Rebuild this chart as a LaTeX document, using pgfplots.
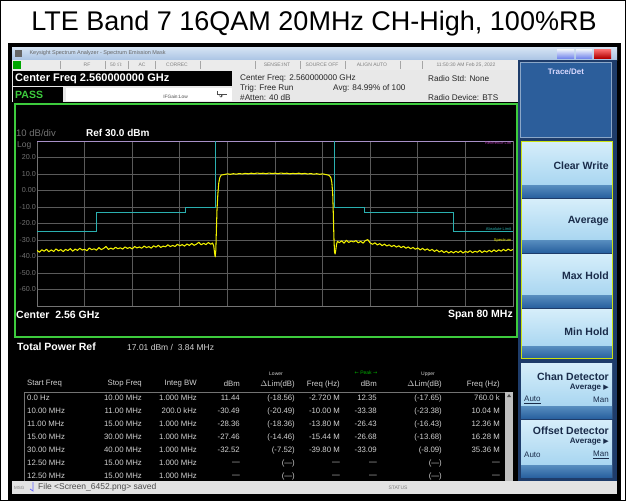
\documentclass[border=0pt]{standalone}
\usepackage{pgfplots}
\pgfplotsset{compat=1.18}
\usepackage{fontspec}
\setmainfont{Liberation Sans}
\newfontfamily\dejavu{DejaVu Sans}
\newcommand\fs[1]{\fontsize{#1}{#1}\selectfont}
\definecolor{tb1}{HTML}{D6E4F4}
\definecolor{tb2}{HTML}{AAC4E4}
\definecolor{grn}{HTML}{3DCB3D}
\definecolor{gridc}{HTML}{5A5A5A}
\definecolor{ylw}{HTML}{F2F200}
\definecolor{mask}{HTML}{2AB0B0}
\definecolor{mag}{HTML}{B03CB0}
\definecolor{lav}{HTML}{A890C8}
\definecolor{navy}{HTML}{1E3C6A}
\definecolor{hdr}{HTML}{2C5E9B}
\definecolor{btop}{HTML}{D6EEFA}
\definecolor{bmid}{HTML}{9CCFEE}
\definecolor{bbot}{HTML}{2A62A0}
\definecolor{btxt}{HTML}{1A2C4A}
\definecolor{tgray}{HTML}{D2D2D2}
\newcommand\btn[2]{%
  \shade[top color=btop,bottom color=bmid] (521,#1) rectangle (612,#2);
  \shade[top color=bmid!40!bbot,bottom color=bbot] (521,{#2-12}) rectangle (612,#2);}
\newcommand\trow[9]{%
  \node[anchor=west] at (27,\ry) {#1};
  \node[anchor=east] at (142,\ry) {#2};
  \node[anchor=east] at (197,\ry) {#3};
  \node[anchor=east] at (240,\ry) {#4};
  \node[anchor=east] at (295,\ry) {#5};
  \node[anchor=east] at (340,\ry) {#6};
  \node[anchor=east] at (377,\ry) {#7};
  \node[anchor=east] at (442,\ry) {#8};
  \node[anchor=east] at (500,\ry) {#9};}
\begin{document}
\begin{tikzpicture}
\begin{scope}[x=1pt,y=-1pt]
\fill[white] (0,0) rectangle (637,501);
\draw[line width=1.2pt] (0.6,0.6) rectangle (625.4,500.4);
\node[anchor=base,font=\fs{27},inner sep=0pt] at (314,30) {LTE Band 7 16QAM 20MHz CH-High, 100\%RB};
\fill[black] (8,43) rectangle (621,500);
% title bar
\shade[top color=tb1,bottom color=tb2] (12,47) rectangle (617,60);
\fill[black!60] (15,50) rectangle (22,57);
\node[anchor=west,font=\fs{5.5},text=black!60] at (26,53.5) {Keysight Spectrum Analyzer - Spectrum Emission Mask};
\shade[top color=white!70!tb1,bottom color=tb2!70!blue] (557,49) rectangle (574,58);
\shade[top color=white!70!tb1,bottom color=tb2!70!blue] (576,49) rectangle (592,58);
\shade[top color=red!55,bottom color=red!70!black] (594,49) rectangle (611,58);
% toolbar
\fill[black!8] (12,60) rectangle (518,70);
\fill[green!65!black] (13,61) rectangle (21,69);
\foreach \x in {60,105,128,155,200,255,300,345,400,422} {\draw[black!35] (\x,61) -- (\x,69);}
\begin{scope}[every node/.style={font=\fs{5},text=black!50,inner sep=0pt}]
\node at (87,65) {RF};
\node at (116,65) {50 $\Omega$};
\node at (142,65) {AC};
\node at (177,65) {CORREC};
\node at (277,65) {SENSE:INT};
\node at (322,65) {SOURCE OFF};
\node at (372,65) {ALIGN AUTO};
\node at (466,65) {11:50:30 AM Feb 25, 2022};
\end{scope}
% info panel
\fill[black!9] (12,70) rectangle (518,102);
\fill[black] (13,71) rectangle (232,86);
\node[anchor=west,font=\bfseries\fs{11},text=white,inner sep=0pt] at (15,78.5) {Center Freq 2.560000000 GHz};
\fill[black] (13,87) rectangle (63,102);
\node[anchor=west,font=\bfseries\fs{10.5},text=grn,inner sep=0pt] at (15,94.5) {PASS};
\fill[white] (66,87.5) rectangle (232,101);
\node[anchor=east,font=\fs{4.8},text=black!70,inner sep=0pt] at (188,96.5) {IFGain:Low};
\draw[black!70,line width=0.6pt] (217,91) -- (217,94) -- (227,94);
\draw[black!70,line width=0.6pt,->] (221,94) -- (221,97.5);
\begin{scope}[every node/.style={anchor=west,font=\fs{8.2},text=black!85,inner sep=0pt}]
\node at (240,78) {Center Freq: 2.560000000 GHz};
\node at (240,88) {Trig: Free Run};
\node at (240,98) {\#Atten: 40 dB};
\node at (333,88) {Avg: 84.99\% of 100};
\node at (428,79) {Radio Std: None};
\node at (428,98) {Radio Device: BTS};
\end{scope}
% right panel
\fill[navy] (518,60) rectangle (617,481);
\fill[hdr] (520,62) rectangle (612,138);
\draw[hdr!55!white,line width=0.6pt] (520.5,62.5) rectangle (611.5,137.5);
\node[font=\bfseries\fs{8},text=white!85!blue] at (566,72) {Trace/Det};
\btn{141}{197}
\btn{199}{252}
\btn{254}{307}
\btn{309}{358}
\btn{363}{418}
\btn{420}{477}
\draw[yellow!80!green,line width=0.8pt] (521,141) rectangle (612,358);
\begin{scope}[every node/.style={anchor=east,font=\bfseries\fs{10.5},text=btxt,inner sep=0pt}]
\node at (609,166) {Clear Write};
\node at (609,221) {Average};
\node at (609,276) {Max Hold};
\node at (609,332) {Min Hold};
\node at (609,377) {Chan Detector};
\node at (609,431) {Offset Detector};
\node[font=\bfseries\fs{8}] at (609,388) {Average {\dejavu\fs{7}▶}};
\node[font=\bfseries\fs{8}] at (609,442) {Average {\dejavu\fs{7}▶}};
\node[font=\fs{8}] at (609,400) {Man};
\node[font=\fs{8}] at (609,455) {\underline{Man}};
\node[anchor=west,font=\fs{8}] at (524,400) {\underline{Auto}};
\node[anchor=west,font=\fs{8}] at (524,455) {Auto};
\end{scope}
% graph + table area
\fill[black] (13,102) rectangle (518,481);
\draw[grn,line width=2pt] (14.5,104) rectangle (516.5,337);
\node[anchor=west,font=\fs{9.5},text=black!55,inner sep=0pt] at (16,133) {10 dB/div};
\node[anchor=west,font=\bfseries\fs{10},text=white!92,inner sep=0pt] at (86,133) {Ref 30.0 dBm};
\node[anchor=west,font=\fs{8.5},text=black!55,inner sep=0pt] at (17,145) {Log};
\node[anchor=west,font=\bfseries\fs{10.5},text=white!92,inner sep=0pt] at (16,315) {Center\ \ 2.56 GHz};
\node[anchor=east,font=\bfseries\fs{10.5},text=white!92,inner sep=0pt] at (513,315) {Span 80 MHz};
% table
\node[anchor=west,font=\bfseries\fs{10.5},text=white!92,inner sep=0pt] at (17,347) {Total Power Ref};
\node[anchor=west,font=\fs{8.5},text=tgray,inner sep=0pt] at (127,347) {17.01 dBm /\ \ 3.84 MHz};
\begin{scope}[every node/.style={font=\fs{5},text=tgray,inner sep=0pt}]
\node at (276,374) {Lower};
\node[text=green!70!black] at (366,373) {{\dejavu ←} Peak {\dejavu →}};
\node at (428,374) {Upper};
\end{scope}
\begin{scope}[every node/.style={font=\fs{7.8},text=tgray,inner sep=0pt}]
\def\ry{384}
\trow{Start Freq}{Stop Freq}{Integ BW}{dBm}{$\Delta$Lim(dB)}{Freq (Hz)}{dBm}{$\Delta$Lim(dB)}{Freq (Hz)}
\def\ry{398}
\trow{0.0 Hz}{10.00 MHz}{1.000 MHz}{11.44}{(-18.56)}{-2.720 M}{12.35}{(-17.65)}{760.0 k}
\def\ry{411}
\trow{10.00 MHz}{11.00 MHz}{200.0 kHz}{-30.49}{(-20.49)}{-10.00 M}{-33.38}{(-23.38)}{10.04 M}
\def\ry{424}
\trow{11.00 MHz}{15.00 MHz}{1.000 MHz}{-28.36}{(-18.36)}{-13.80 M}{-26.43}{(-16.43)}{12.36 M}
\def\ry{437}
\trow{15.00 MHz}{30.00 MHz}{1.000 MHz}{-27.46}{(-14.46)}{-15.44 M}{-26.68}{(-13.68)}{16.28 M}
\def\ry{450}
\trow{30.00 MHz}{40.00 MHz}{1.000 MHz}{-32.52}{(-7.52)}{-39.80 M}{-33.09}{(-8.09)}{35.36 M}
\def\ry{463}
\trow{12.50 MHz}{15.00 MHz}{1.000 MHz}{---}{(---)}{---}{---}{(---)}{---}
\def\ry{476}
\trow{12.50 MHz}{15.00 MHz}{1.000 MHz}{---}{(---)}{---}{---}{(---)}{---}
\end{scope}
\draw[black!55,line width=0.5pt] (24,392) rectangle (505,490);
\fill[black!25] (505,392) rectangle (513,481);
\fill[black!70] (507,397) -- (511,397) -- (509,394) -- cycle;
% status bar
\fill[black!11] (12,481) rectangle (617,494);
\node[anchor=west,font=\fs{4.5},text=black!50,inner sep=0pt] at (14,487.5) {MSG};
\draw[blue!60,line width=0.8pt] (33,482) -- (33,491) -- (30,489);
\node[anchor=west,font=\fs{8.5},text=black!70,inner sep=0pt] at (38,487.5) {File <Screen\_6452.png> saved};
\node[font=\fs{5},text=black!50,inner sep=0pt] at (398,487.5) {STATUS};
\end{scope}
\begin{axis}[at={(37pt,-306pt)},anchor=south west,scale only axis,
  width=476pt,height=165pt,
  xmin=-40,xmax=40,ymin=-70,ymax=30,
  xtick={-32,-24,-16,-8,0,8,16,24,32},xticklabels={},
  ytick={-60,-50,-40,-30,-20,-10,0,10,20},
  yticklabels={-60.0,-50.0,-40.0,-30.0,-20.0,-10.0,0.00,10.0,20.0},
  grid=major,grid style={gridc,line width=0.6pt},
  major tick length=0pt,
  axis line style={black!55,line width=0.7pt},
  axis background/.style={fill=black},
  yticklabel style={font=\fs{7.2},text=black!55,inner sep=1pt}]
\addplot[lav,line width=1.4pt] coordinates {(-40,30) (40,30)};
\addplot[mask,line width=0.7pt] coordinates {(-40,-25) (-30,-25) (-30,-13) (-15,-13) (-15,-10) (-10,-10) (-10,30)};
\addplot[mask,line width=0.7pt] coordinates {(10,30) (10,-10) (15,-10) (15,-13) (30,-13) (30,-25) (40,-25)};
\addplot[ylw,line width=1.05pt,line join=round] coordinates {
(-40.0,-36.2) (-39.6,-37.4) (-39.2,-35.9) (-38.8,-36.8) (-38.4,-35.6) (-38.0,-37.1)
(-37.6,-36.0) (-37.2,-36.9) (-36.8,-35.4) (-36.4,-36.6) (-36.0,-35.8) (-35.6,-37.0)
(-35.2,-35.7) (-34.8,-36.4) (-34.4,-35.2) (-34.0,-36.8) (-33.6,-35.5) (-33.2,-36.3)
(-32.8,-35.0) (-32.4,-36.1) (-32.0,-35.6) (-31.6,-36.5) (-31.2,-34.8) (-30.8,-35.9)
(-30.4,-35.3) (-30.0,-36.2) (-29.6,-34.6) (-29.2,-35.8) (-28.8,-35.1) (-28.4,-33.9)
(-28.0,-35.7) (-27.6,-34.9) (-27.2,-35.6) (-26.8,-34.4) (-26.4,-35.3) (-26.0,-34.7)
(-25.6,-35.5) (-25.2,-34.2) (-24.8,-35.1) (-24.4,-34.5) (-24.0,-35.4) (-23.6,-33.9)
(-23.2,-34.8) (-22.8,-34.2) (-22.4,-35.0) (-22.0,-33.6) (-21.6,-34.6) (-21.2,-34.0)
(-20.8,-34.9) (-20.4,-33.5) (-20.0,-34.3) (-19.6,-33.2) (-19.2,-34.5) (-18.8,-33.7)
(-18.4,-34.1) (-18.0,-32.9) (-17.6,-34.0) (-17.2,-33.3) (-16.8,-33.9) (-16.4,-32.6)
(-16.0,-33.5) (-15.6,-32.8) (-15.2,-33.7) (-14.8,-32.4) (-14.4,-33.3) (-14.0,-32.1)
(-13.6,-33.2) (-13.2,-32.5) (-12.8,-31.4) (-12.4,-32.9) (-12.0,-32.0) (-11.6,-32.8)
(-11.2,-31.5) (-10.8,-32.6) (-10.5,-31.8) (-10.3,-33.5) (-10.15,-38.0) (-10.05,-40.2)
(-9.95,-36.5) (-9.85,-24.0) (-9.75,-12.0) (-9.6,-2.0) (-9.45,4.5) (-9.3,7.5)
(-9.15,8.8) (-9.0,9.4) (-8.5,9.7) (-8.0,10.1) (-7.5,9.8) (-7.0,10.2) (-6.5,9.9)
(-6.0,10.3) (-5.5,10.0) (-5.0,10.4) (-4.5,10.1) (-4.0,10.5) (-3.5,10.2) (-3.0,10.6)
(-2.5,10.3) (-2.0,10.5) (-1.5,10.2) (-1.0,10.6) (-0.5,10.3) (0.0,10.5) (0.5,10.2)
(1.0,10.6) (1.5,10.3) (2.0,10.5) (2.5,10.1) (3.0,10.4) (3.5,10.2) (4.0,10.5)
(4.5,10.1) (5.0,10.4) (5.5,10.0) (6.0,10.3) (6.5,9.9) (7.0,10.2) (7.5,9.8)
(8.0,10.1) (8.5,9.7) (9.0,9.3) (9.2,8.8) (9.4,7.6) (9.55,5.0) (9.7,-2.0)
(9.8,-14.0) (9.9,-28.0) (10.0,-37.0) (10.1,-38.5) (10.2,-36.5) (10.35,-32.5)
(10.5,-30.8) (10.8,-31.6) (11.2,-30.5) (11.6,-31.9) (12.0,-30.2) (12.4,-31.5)
(12.8,-30.6) (13.2,-31.2) (13.6,-30.4) (14.0,-31.7) (14.4,-30.8) (14.8,-31.9)
(15.2,-30.3) (15.6,-29.8) (16.0,-31.8) (16.4,-32.6) (16.8,-31.7) (17.2,-33.0)
(17.6,-32.2) (18.0,-33.4) (18.4,-32.5) (18.8,-33.6) (19.2,-32.9) (19.6,-34.0)
(20.0,-33.2) (20.4,-34.3) (20.8,-33.5) (21.2,-34.6) (21.6,-33.8) (22.0,-35.0)
(22.4,-34.2) (22.8,-35.3) (23.2,-34.5) (23.6,-35.6) (24.0,-34.8) (24.4,-36.0)
(24.8,-35.1) (25.2,-36.2) (25.6,-35.4) (26.0,-36.5) (26.4,-35.7) (26.8,-36.9)
(27.2,-36.0) (27.6,-37.3) (28.0,-36.4) (28.4,-37.6) (28.8,-36.7) (29.2,-37.9)
(29.6,-36.9) (30.0,-37.8) (30.4,-36.8) (30.8,-37.6) (31.2,-36.6) (31.6,-37.9)
(32.0,-36.9) (32.4,-37.5) (32.8,-36.5) (33.2,-37.7) (33.6,-36.8) (34.0,-37.4)
(34.4,-36.3) (34.8,-37.6) (35.2,-36.6) (35.6,-37.3) (36.0,-36.2) (36.4,-37.2)
(36.8,-36.0) (37.2,-37.0) (37.6,-35.9) (38.0,-36.8) (38.4,-35.7) (38.8,-36.6)
(39.2,-35.5) (39.6,-36.4) (40.0,-35.8)};
\node[anchor=north east,font=\fs{4},text=mag,inner sep=0.5pt] at (axis cs:39.8,30) {Reference Lim};
\node[anchor=south east,font=\fs{4},text=mask,inner sep=0.5pt] at (axis cs:39.8,-24.5) {Absolute Limit};
\node[anchor=south east,font=\fs{4},text=ylw,inner sep=0.5pt] at (axis cs:39.8,-32) {Spectrum};
\end{axis}
\end{tikzpicture}
\end{document}
